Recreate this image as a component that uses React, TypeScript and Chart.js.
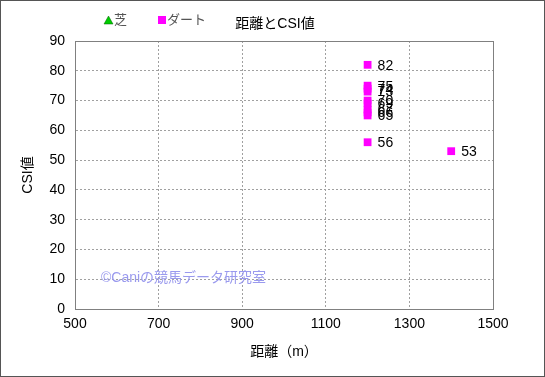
import React, { useEffect, useRef } from "react";
import { Chart, registerables } from "chart.js";

Chart.register(...registerables);

const turfDistances: number[] = [];
const turfCSI: number[] = [];
const dirtDistances = [1200, 1200, 1200, 1200, 1200, 1200, 1200, 1200, 1200, 1200, 1400];
const dirtCSI = [82, 75, 74, 73, 70, 69, 67, 66, 65, 56, 53];
const xTicks = [500, 700, 900, 1100, 1300, 1500];
const yTicks = [0, 10, 20, 30, 40, 50, 60, 70, 80, 90];
const titleText = "距離とCSI値";
const xTitle = "距離（m）";
const yTitle = "CSI値";
const watermark = "©Caniの競馬データ研究室";
const seriesNames = ["芝", "ダート"];

const FONT = "'Liberation Sans', 'Noto Sans CJK JP', sans-serif";

export default function App() {
  const ref = useRef<HTMLCanvasElement | null>(null);

  useEffect(() => {
    document.body.style.margin = "0";
    const canvas = ref.current!;
    const overlay = {
      id: "overlay",
      beforeDraw(chart: any) {
        const ctx = chart.ctx;
        ctx.save();
        ctx.fillStyle = "#ffffff";
        ctx.fillRect(0, 0, chart.width, chart.height);
        ctx.restore();
      },
      afterDatasetsDraw(chart: any) {
        const ctx = chart.ctx;
        const { left, right, top, bottom } = chart.chartArea;
        ctx.save();
        ctx.strokeStyle = "#808080";
        ctx.lineWidth = 1;
        ctx.strokeRect(Math.round(left) + 0.5, Math.round(top) + 0.5, Math.round(right - left), Math.round(bottom - top));
        ctx.strokeStyle = "#555555";
        ctx.strokeRect(0.5, 0.5, chart.width - 1, chart.height - 1);
        ctx.fillStyle = "#000000";
        ctx.font = `14px ${FONT}`;
        ctx.textAlign = "left";
        ctx.textBaseline = "middle";
        const meta = chart.getDatasetMeta(1);
        meta.data.forEach((pt: any, i: number) => {
          ctx.fillText(String(dirtCSI[i]), pt.x + 10, pt.y + 1);
        });
        ctx.fillStyle = "#9a9aee";
        ctx.font = `14px ${FONT}`;
        ctx.textBaseline = "middle";
        ctx.fillText(watermark, left + 26, chart.scales.y.getPixelForValue(10.5));
        ctx.fillStyle = "#000000";
        ctx.font = `14px ${FONT}`;
        ctx.textAlign = "center";
        ctx.fillText(titleText, 275, 24);
        ctx.font = `13px ${FONT}`;
        ctx.textAlign = "left";
        ctx.fillStyle = "#00cc00";
        ctx.strokeStyle = "#006600";
        ctx.beginPath();
        ctx.moveTo(104, 24);
        ctx.lineTo(108.5, 16);
        ctx.lineTo(113, 24);
        ctx.closePath();
        ctx.fill();
        ctx.lineWidth = 0.5;
        ctx.stroke();
        ctx.fillStyle = "#555555";
        ctx.fillText(seriesNames[0], 114, 20);
        ctx.fillStyle = "#ff00ff";
        ctx.fillRect(158, 16, 8, 8);
        ctx.fillStyle = "#555555";
        ctx.fillText(seriesNames[1], 167, 20);
        ctx.restore();
      },
    };

    const chart = new Chart(canvas, {
      type: "scatter",
      data: {
        datasets: [
          {
            label: seriesNames[0],
            data: turfDistances.map((d, i) => ({ x: d, y: turfCSI[i] })),
            pointStyle: "triangle",
            backgroundColor: "#00cc00",
            borderColor: "#00cc00",
          },
          {
            label: seriesNames[1],
            data: dirtDistances.map((d, i) => ({ x: d, y: dirtCSI[i] })),
            pointStyle: "rect",
            pointRadius: 5.5,
            backgroundColor: "#ff00ff",
            borderColor: "#ff00ff",
            borderWidth: 0,
          },
        ],
      },
      options: {
        responsive: false,
        animation: false,
        layout: { padding: { left: 0, top: 41, right: 52, bottom: 0 } },
        plugins: { legend: { display: false }, title: { display: false }, tooltip: { enabled: false } },
        scales: {
          x: {
            type: "linear",
            min: 500,
            max: 1500,
            afterBuildTicks: (s: any) => {
              s.ticks = xTicks.map((v) => ({ value: v }));
            },
            afterFit: (s: any) => {
              s.height = 377 - 309;
            },
            ticks: { color: "#000", font: { family: FONT, size: 14 }, padding: 7, maxRotation: 0, callback: (v: any) => String(v) },
            grid: { color: "#a0a0a0", tickLength: 0, drawTicks: false },
            border: { color: "#808080", dash: [2, 2] },
            title: { display: true, text: xTitle, color: "#000", font: { family: FONT, size: 14 }, padding: { top: 0, bottom: 16 } },
          },
          y: {
            type: "linear",
            min: 0,
            max: 90,
            afterBuildTicks: (s: any) => {
              s.ticks = yTicks.map((v) => ({ value: v }));
            },
            afterFit: (s: any) => {
              s.width = 75;
            },
            ticks: { color: "#000", font: { family: FONT, size: 14 }, padding: 10 },
            grid: { color: "#a0a0a0", tickLength: 0, drawTicks: false },
            border: { color: "#808080", dash: [2, 2] },
            title: { display: true, text: yTitle, color: "#000", font: { family: FONT, size: 14 }, padding: { top: 20, bottom: 0 } },
          },
        },
      },
      plugins: [overlay],
    } as any);
    return () => chart.destroy();
  }, []);

  return (
    <div style={{ width: 545, height: 377 }}>
      <canvas ref={ref} width={545} height={377} />
    </div>
  );
}
